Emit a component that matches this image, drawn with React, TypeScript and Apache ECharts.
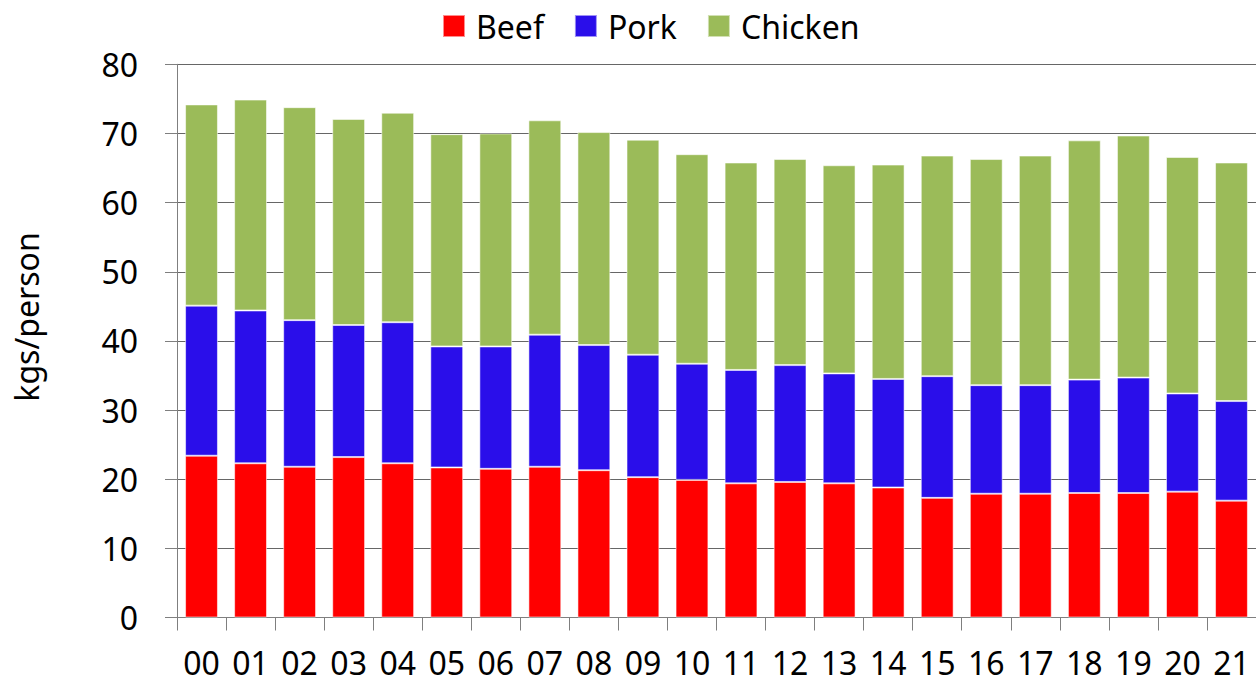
import React, { useEffect, useRef } from "react";
import * as echarts from "echarts";

// Per-capita meat consumption, stacked by type (kg per person)
const years = ["00", "01", "02", "03", "04", "05", "06", "07", "08", "09", "10",
  "11", "12", "13", "14", "15", "16", "17", "18", "19", "20", "21"];

// Layer amounts per year; each stack adds up to the yearly total
const beef = [23.4, 22.3, 21.8, 23.2, 22.3, 21.7, 21.5, 21.8, 21.3, 20.3, 19.9,
  19.4, 19.6, 19.4, 18.8, 17.3, 17.9, 17.9, 18.0, 18.0, 18.2, 16.9];
const pork = [21.7, 22.1, 21.2, 19.1, 20.4, 17.5, 17.7, 19.1, 18.1, 17.7, 16.8,
  16.4, 16.9, 15.9, 15.7, 17.6, 15.7, 15.7, 16.4, 16.7, 14.2, 14.4];
const chicken = [29.1, 30.5, 30.8, 29.8, 30.3, 30.7, 30.8, 31.0, 30.8, 31.1, 30.3,
  30.0, 29.8, 30.1, 31.0, 31.9, 32.7, 33.2, 34.6, 35.0, 34.2, 34.5];

const yTicks = { min: 0, max: 80, interval: 10 };

const FONT = "'Noto Sans', 'Open Sans', sans-serif";

export default function App() {
  const ref = useRef<HTMLDivElement>(null);

  useEffect(() => {
    if (!ref.current) return;
    const chart = echarts.init(ref.current, undefined, { renderer: "svg" });

    const barStyle = (color: string) => ({
      color,
      borderColor: "rgba(255,255,255,0.55)",
      borderWidth: 1,
    });

    chart.setOption({
      animation: false,
      backgroundColor: "#ffffff",
      textStyle: { fontFamily: FONT, color: "#000" },
      legend: {
        left: 442,
        top: 10,
        padding: 0,
        icon: "rect",
        itemWidth: 22,
        itemHeight: 22,
        itemGap: 30,
        textStyle: {
          fontFamily: FONT,
          fontSize: 32,
          color: "#000",
          padding: [0, 0, 0, 6],
        },
        data: ["Beef", "Pork", "Chicken"],
      },
      grid: { left: 177, right: -5, top: 64.3, bottom: 66.5, containLabel: false },
      xAxis: {
        type: "category",
        data: years,
        boundaryGap: true,
        axisLine: { show: true, lineStyle: { color: "#7f7f7f", width: 1 } },
        axisTick: { show: true, length: 13, lineStyle: { color: "#7f7f7f" } },
        axisLabel: {
          fontFamily: FONT,
          fontSize: 32,
          lineHeight: 32,
          color: "#000",
          margin: 29,
          interval: 0,
        },
        splitLine: { show: false },
      },
      yAxis: {
        type: "value",
        min: yTicks.min,
        max: yTicks.max,
        interval: yTicks.interval,
        axisLine: { show: true, lineStyle: { color: "#7f7f7f", width: 1 } },
        axisTick: { show: true, length: 12, lineStyle: { color: "#7f7f7f" } },
        axisLabel: {
          fontFamily: FONT,
          fontSize: 32,
          color: "#000",
          margin: 39,
        },
        splitLine: { show: true, lineStyle: { color: "#666666", width: 1 } },
      },
      graphic: [
        {
          type: "text",
          x: 26,
          y: 317,
          rotation: Math.PI / 2,
          style: {
            text: "kgs/person",
            font: `32px ${FONT}`,
            fill: "#000",
            textAlign: "center",
            textVerticalAlign: "middle",
          },
        },
      ],
      series: [
        {
          name: "Beef",
          type: "bar",
          stack: "meat",
          barCategoryGap: "33%",
          itemStyle: barStyle("#ff0000"),
          data: beef,
        },
        {
          name: "Pork",
          type: "bar",
          stack: "meat",
          barCategoryGap: "33%",
          itemStyle: barStyle("#2a0eea"),
          data: pork,
        },
        {
          name: "Chicken",
          type: "bar",
          stack: "meat",
          barCategoryGap: "33%",
          itemStyle: barStyle("#9bbb59"),
          data: chicken,
        },
      ],
    });

    return () => chart.dispose();
  }, []);

  return (
    <div
      ref={ref}
      style={{ position: "fixed", left: 0, top: 0, width: 1256, height: 684 }}
    />
  );
}
